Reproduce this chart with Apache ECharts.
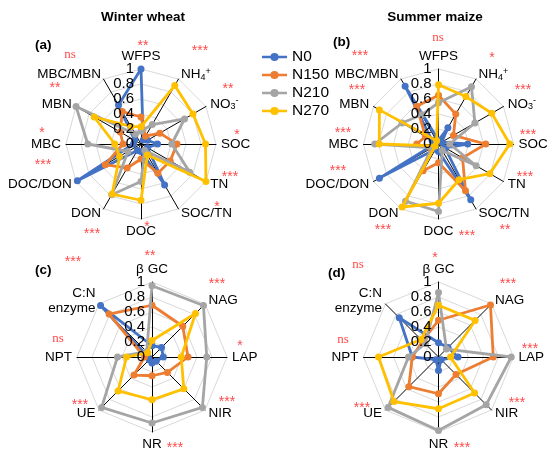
<!DOCTYPE html>
<html><head><meta charset="utf-8">
<script src="https://cdn.jsdelivr.net/npm/echarts@6/dist/echarts.min.js"></script>
<style>html,body{margin:0;padding:0;background:#fff}#c{width:550px;height:457px}</style>
</head><body><div id="c"></div>
<script>
// ---- data ----
const treatments = ['N0', 'N150', 'N210', 'N270'];
const soilAxes = ['WFPS', 'NH4+', 'NO3-', 'SOC', 'TN', 'SOC/TN', 'DOC', 'DON', 'DOC/DON', 'MBC', 'MBN', 'MBC/MBN'];
const enzymeAxes = ['β GC', 'NAG', 'LAP', 'NIR', 'NR', 'UE', 'NPT', 'C:N\nenzyme'];
const tickLabels = ['0', '0.2', '0.4', '0.6', '0.8', '1'];

const wheatN0   = [1.00, 0.06, 0.10, 0.22, 0.10, 0.63, 0.10, 0.10, 0.98, 0.10, 0.10, 0.60];
const wheatN150 = [0.36, 0.12, 0.29, 0.48, 0.45, 0.45, 0.20, 0.37, 0.55, 0.24, 0.32, 0.50];
const wheatN210 = [0.17, 0.30, 0.67, 0.41, 0.75, 0.10, 0.50, 0.78, 0.20, 0.71, 1.00, 0.15];
const wheatN270 = [0.23, 0.90, 0.80, 0.86, 1.00, 0.17, 0.75, 0.77, 0.33, 0.35, 0.72, 0.27];

const maizeN0   = [0.05, 0.25, 0.05, 0.39, 0.10, 0.86, 0.10, 0.08, 0.91, 0.05, 0.10, 0.89];
const maizeN150 = [0.65, 0.46, 0.23, 0.63, 0.37, 0.72, 0.25, 0.41, 0.12, 0.29, 0.20, 0.58];
const maizeN210 = [0.55, 0.88, 0.56, 0.15, 0.58, 0.10, 0.90, 0.88, 0.10, 0.85, 0.56, 0.45];
const maizeN270 = [0.79, 0.73, 0.82, 0.95, 0.79, 0.55, 0.79, 0.97, 0.05, 0.79, 0.91, 0.05];

const wheatEnzN0   = [0.15, 0.18, 0.15, 0.08, 0.08, 0.05, 0.05, 0.97];
const wheatEnzN150 = [0.69, 0.58, 0.48, 0.29, 0.25, 0.34, 0.10, 0.81];
const wheatEnzN210 = [0.95, 0.97, 0.73, 0.95, 0.88, 0.95, 0.46, 0.10];
const wheatEnzN270 = [0.22, 0.82, 0.39, 0.60, 0.57, 0.64, 0.34, 0.08];

const maizeEnzN0   = [0.19, 0.18, 0.26, 0.05, 0.18, 0.05, 0.35, 0.74];
const maizeEnzN150 = [0.49, 0.98, 0.73, 0.33, 0.49, 0.56, 0.35, 0.30];
const maizeEnzN210 = [0.86, 0.15, 0.97, 0.90, 0.98, 0.95, 0.40, 0.25];
const maizeEnzN270 = [0.69, 0.69, 0.16, 0.68, 0.69, 0.84, 0.80, 0.33];

const wheatSig    = ['**', '***', '**', '*', '***', '*', '*', '***', '***', '*', '**', 'ns'];
const maizeSig    = ['ns', '*', '***', '***', '***', '**', '***', '***', '***', '***', '***', '***'];
const wheatEnzSig = ['**', '***', '*', '***', '***', '***', 'ns', '***'];
const maizeEnzSig = ['*', '***', '***', '***', '***', '***', 'ns', 'ns'];

const cropTitles = ['Winter wheat', 'Summer maize'];
const panelTags = ['(a)', '(b)', '(c)', '(d)'];

// ---- layout ----
const colors = ['#4472C4', '#ED7D31', '#A5A5A5', '#FFC000'];
const R = 75;
const panels = [
  { center: [141, 144], axes: soilAxes, data: [wheatN0, wheatN150, wheatN210, wheatN270], sig: wheatSig,
    sigPos: [[143,43],[200,48],[228,86],[237,132],[230,174],[217,204],[147,224],[92,231],[43,162],[42,130],[55,85],[70,55]],
    tag: [35, 45] },
  { center: [438.5, 144], axes: soilAxes, data: [maizeN0, maizeN150, maizeN210, maizeN270], sig: maizeSig,
    sigPos: [[438,38],[492,55],[523,87],[528,132],[525,174],[505,227],[467,233],[383,227],[338,168],[343,130],[357,87],[360,53]],
    tag: [333, 42] },
  { center: [152, 357], axes: enzymeAxes, data: [wheatEnzN0, wheatEnzN150, wheatEnzN210, wheatEnzN270], sig: wheatEnzSig,
    sigPos: [[150,253],[217,281],[240,343],[227,399],[175,445],[80,402],[58,339],[73,259]],
    tag: [35, 270] },
  { center: [438.5, 357], axes: enzymeAxes, data: [maizeEnzN0, maizeEnzN150, maizeEnzN210, maizeEnzN270], sig: maizeEnzSig,
    sigPos: [[435,255],[508,281],[530,346],[517,400],[462,445],[362,405],[343,340],[358,265]],
    tag: [328, 273] }
];

// ECharts radar runs counter-clockwise; the reference runs clockwise
function cw(arr) { return [arr[0]].concat(arr.slice(1).reverse()); }

function nameFmt(name) {
  if (name === 'NH4+') return '{t|NH}{sb|4}{sp|+}';
  if (name === 'NO3-') return '{t|NO}{sb|3}{sp|-}';
  return name.split('\n').map(s => '{t|' + s + '}').join('\n');
}

const FONT = 'Liberation Sans, Arial, sans-serif';
const radar = panels.map(p => ({
  center: p.center, radius: R, startAngle: 90, splitNumber: 5, shape: 'polygon',
  indicator: cw(p.axes).map(n => ({ name: n, min: 0, max: 1 })),
  nameGap: 5,
  axisName: {
    color: '#000', fontFamily: FONT, fontSize: 13.5,
    formatter: nameFmt,
    rich: {
      t: { fontSize: 13.5, color: '#000', lineHeight: 15, fontFamily: FONT },
      sb: { fontSize: 9, color: '#000', verticalAlign: 'bottom', lineHeight: 15, fontFamily: FONT },
      sp: { fontSize: 9, color: '#000', verticalAlign: 'top', lineHeight: 15, fontFamily: FONT }
    }
  },
  axisLine: { lineStyle: { color: '#000', width: 1 } },
  splitLine: { lineStyle: { color: '#d9d9d9', width: 1 } },
  splitArea: { show: false },
  axisTick: { show: false },
  axisLabel: { show: false }
}));

const series = [];
panels.forEach((p, pi) => {
  p.data.forEach((vals, ti) => {
    series.push({
      type: 'radar', name: treatments[ti], radarIndex: pi,
      symbol: 'circle', symbolSize: 7,
      lineStyle: { color: colors[ti], width: 2.8 },
      itemStyle: { color: colors[ti] },
      z: 2 + ti,
      data: [{ value: cw(vals), name: treatments[ti] }]
    });
  });
});

const polar = panels.map(p => ({ center: p.center, radius: R }));
const angleAxis = panels.map((p, i) => ({ polarIndex: i, show: false, startAngle: 90, min: 0, max: 360 }));
const radiusAxis = panels.map((p, i) => ({
  polarIndex: i, min: 0, max: 1, interval: 0.2, z: 10,
  axisLine: { show: false }, axisTick: { show: false }, splitLine: { show: false },
  axisLabel: { color: '#000', fontSize: 15, margin: 7, fontFamily: FONT,
    formatter: v => tickLabels[Math.round(v / 0.2)] }
}));

const graphic = [];
cropTitles.forEach((t, i) => {
  graphic.push({ type: 'text', x: [143, 435][i], y: 17,
    style: { text: t, fill: '#000', font: 'bold 13.5px ' + FONT, textAlign: 'center', textVerticalAlign: 'middle' } });
});
panels.forEach((p, pi) => {
  graphic.push({ type: 'text', x: p.tag[0], y: p.tag[1],
    style: { text: panelTags[pi], fill: '#000', font: 'bold 13.5px ' + FONT, textAlign: 'left', textVerticalAlign: 'middle' } });
  p.sig.forEach((s, k) => {
    const isNs = s === 'ns';
    graphic.push({ type: 'text', x: p.sigPos[k][0], y: p.sigPos[k][1] + (isNs ? 0 : 3),
      style: { text: s, fill: '#ff4a4a',
        font: isNs ? '13px Liberation Serif, Times New Roman, serif' : '14px ' + FONT,
        textAlign: 'center', textVerticalAlign: 'middle' } });
  });
});

const legendIcon = 'path://M0,4H25V6.6H0Z M16.6,5.3A4.1,4.1 0 1 1 8.4,5.3A4.1,4.1 0 1 1 16.6,5.3Z';

const chart = echarts.init(document.getElementById('c'), null, { renderer: 'canvas' });
chart.setOption({
  animation: false,
  backgroundColor: '#fff',
  legend: {
    data: treatments.map(n => ({ name: n, icon: legendIcon })),
    orient: 'vertical', left: 257, top: 44,
    itemWidth: 25, itemHeight: 8.4, itemGap: 2, itemStyle: { borderWidth: 0 },
    textStyle: { fontSize: 15.5, color: '#000', fontFamily: FONT, lineHeight: 15 }
  },
  radar, polar, angleAxis, radiusAxis,
  series, graphic
});
</script>
</body></html>
